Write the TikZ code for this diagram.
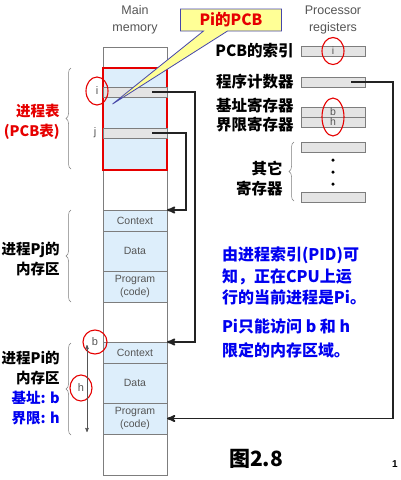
\documentclass[tikz,border=0pt]{standalone}
\usepackage{fontspec}
\setmainfont{Liberation Sans}
\newfontfamily\cjk{Noto Sans CJK SC}
\usepackage{tikz}
\usetikzlibrary{positioning}
\usetikzlibrary{shapes,arrows,calc,shapes.callouts,decorations.pathreplacing}
\definecolor{memblue}{RGB}{221,238,251}
\definecolor{bargray}{RGB}{228,228,228}
\definecolor{linegray}{RGB}{125,125,125}
\definecolor{txtgray}{RGB}{85,85,85}
\definecolor{notered}{RGB}{230,0,0}
\definecolor{noteblue}{RGB}{0,0,240}
\definecolor{callyellow}{RGB}{255,255,150}
\definecolor{callborder}{RGB}{70,70,170}
\definecolor{wire}{RGB}{35,35,35}
\tikzset{
    %Define standard arrow tip
    >=stealth',
    % Define arrow style
    pil/.style={
           ->,
           draw=wire,
           line width=1.8pt,}
}
\newcommand{\memwidth}{64pt}
\newcommand{\barheight}{10pt}
\newcommand{\cjkfont}{\cjk\bfseries\fontsize{15.5}{20}\selectfont}
\newcommand{\cjkleft}{\cjk\bfseries\fontsize{14.5}{20}\selectfont}

\begin{document}
\begin{tikzpicture}[x=1pt, y=-1pt, node distance=0pt, outer sep=0pt]
\tikzstyle{col}=[ draw=linegray, line width=0.6pt,
                  rectangle,
                  minimum width=\memwidth, minimum height=428pt,
                  inner sep=0pt,
                  anchor=north west]
\tikzstyle{pcbtab}=[ draw=notered, line width=1.3pt,
                  rectangle,
                  minimum width=\memwidth, minimum height=102pt,
                  fill=memblue,
                  inner sep=0pt,
                  anchor=north west]
\tikzstyle{blk}=[ draw=linegray, line width=0.6pt,
                  rectangle,
                  minimum width=\memwidth,
                  fill=memblue,
                  inner sep=0pt, align=center,
                  text=txtgray, font=\fontsize{10.5}{13}\selectfont,
                  anchor=north west]
\tikzstyle{rbar}=[ draw=linegray, line width=0.6pt,
                  rectangle,
                  minimum width=\memwidth, minimum height=\barheight,
                  fill=bargray,
                  inner sep=0pt,
                  text=txtgray, font=\fontsize{10.5}{10}\selectfont,
                  anchor=north west]
\tikzstyle{ring}=[ draw=notered, line width=1.1pt,
                  ellipse,
                  inner sep=0pt,
                  text=txtgray, font=\fontsize{11}{11}\selectfont]
\tikzstyle{brc}=[ draw=linegray, line width=0.5pt,
                  decorate, decoration={brace, amplitude=5pt}]
\tikzstyle{lab}=[ font=\cjkfont, align=right, anchor=east]
\tikzstyle{head}=[ text=txtgray, align=center,
                  font=\fontsize{12.5}{17}\selectfont]

\path[use as bounding box, fill=white] (0,0) rectangle (401,480);

% main memory
\node[head] (memhead) at (135,20) {Main\\memory};
\node[col] (memcol) at (103,47) {};
\node[pcbtab] (pcbtab) at (103,68) {};
\node[rbar] (ibar) at (103,87) {};
\node[rbar] (jbar) at (103,128) {};
\node[ring, minimum width=22pt, minimum height=28pt] (ilab) at (97,91) {i};
\node[text=txtgray, font=\fontsize{11}{11}\selectfont] (jlab) at (95,133) {j};

\node[blk, minimum height=21pt] (pjctx) at (103,210) {Context};
\node[blk, minimum height=40pt] (pjdata) [below = 0pt of pjctx] {Data};
\node[blk, minimum height=31pt] (pjprog) [below = 0pt of pjdata] {Program\\(code)};

\node[blk, minimum height=21pt] (pictx) at (103,342) {Context};
\node[blk, minimum height=40pt] (pidata) [below = 0pt of pictx] {Data};
\node[blk, minimum height=31pt] (piprog) [below = 0pt of pidata] {Program\\(code)};

\node[ring, minimum width=24pt, minimum height=24pt] (blab) at (95,342) {b};
\node[ring, minimum width=22pt, minimum height=26pt] (hlab) at (81,388) {h};
\coordinate (btop) at (87,345);
\coordinate (hbot) at (87,432);
\draw[<->, draw=txtgray, line width=0.6pt] (btop) -- (hbot);

% processor registers
\node[head] (reghead) at (333,20) {Processor\\registers};
\node[rbar] (ridx) at (301,46) {i};
\node[rbar] (rpc) at (301,77) {};
\node[rbar] (rbase) at (301,107) {b};
\node[rbar] (rlim) [below = 0pt of rbase] {h};
\node[rbar] (rother1) at (301,142) {};
\node[rbar] (rother2) at (301,192) {};
\foreach \k/\yy in {1/160,2/172,3/184}
    \node[circle, fill=black, inner sep=0pt, minimum size=3.5pt] (dot\k) at (333,\yy) {};
\node[ring, minimum width=22pt, minimum height=27pt] (ringidx) at (333,51) {};
\node[ring, minimum width=22pt, minimum height=38pt] (ringbh) at (333,117) {};

\node[lab] (lidx) at (297,51) {PCB的索引};
\node[lab] (lpc) at (297,82) {程序计数器};
\node[lab] (lbase) at (297,106) {基址寄存器};
\node[lab] (llim) at (297,125) {界限寄存器};
\node[lab] (lother) at (286,179) {其它\\寄存器};

% braces
\draw[brc] (71,169) -- (71,68);
\draw[brc] (71,302) -- (71,210);
\draw[brc] (71,435) -- (71,343);
\draw[brc] (294,201) -- (294,142);

\node[lab, font=\cjkleft, text=notered] (ltab) at (63,122) {进程表\\(PCB表)};
\node[lab, font=\cjkleft] (lpj) at (63,259) {进程Pj的\\内存区};
\node[lab, font=\cjkleft] (lpi) at (63,388) {进程Pi的\\内存区\\{\color{noteblue}基址: b}\\{\color{noteblue}界限: h}};

% pointers
\draw[pil] ([xshift=-15pt]ibar.east) -| ([xshift=28pt]pictx.north east) -- (pictx.north east);
\draw[pil] ([xshift=-15pt]jbar.east) -| ([xshift=19pt]pjctx.north east) -- (pjctx.north east);
\draw[pil] ([xshift=-14pt]rpc.east) -| ([xshift=226pt]piprog.east) -- (piprog.east);

% callout
\node[rectangle callout, callout relative pointer={(-103,73)}, callout pointer width=24pt,
      fill=callyellow, draw=callborder, line width=0.8pt,
      minimum width=101pt, minimum height=22pt, inner sep=0pt,
      text=notered, font=\cjkfont] (pcbnote) at (231,20) {Pi的PCB};

% notes
\node[anchor=north west, align=left, text=noteblue, inner sep=0pt,
      font=\cjk\bfseries\fontsize{16}{21.5}\selectfont] (note1) at (222,247)
      {由进程索引(PID)可\\知，正在CPU上运\\行的当前进程是Pi。};
\node[anchor=north west, align=left, text=noteblue, inner sep=0pt,
      font=\cjk\bfseries\fontsize{16}{24}\selectfont] (note2) [below = 13pt of note1.south west, anchor=north west]
      {Pi只能访问 b 和 h\\限定的内存区域。};

\node[font=\cjk\bfseries\fontsize{21}{21}\selectfont] (fig) at (256,459) {图2.8};
\node[font=\bfseries\fontsize{10}{10}\selectfont, anchor=east] (pgno) at (401,464) {1};
\end{tikzpicture}
\end{document}
